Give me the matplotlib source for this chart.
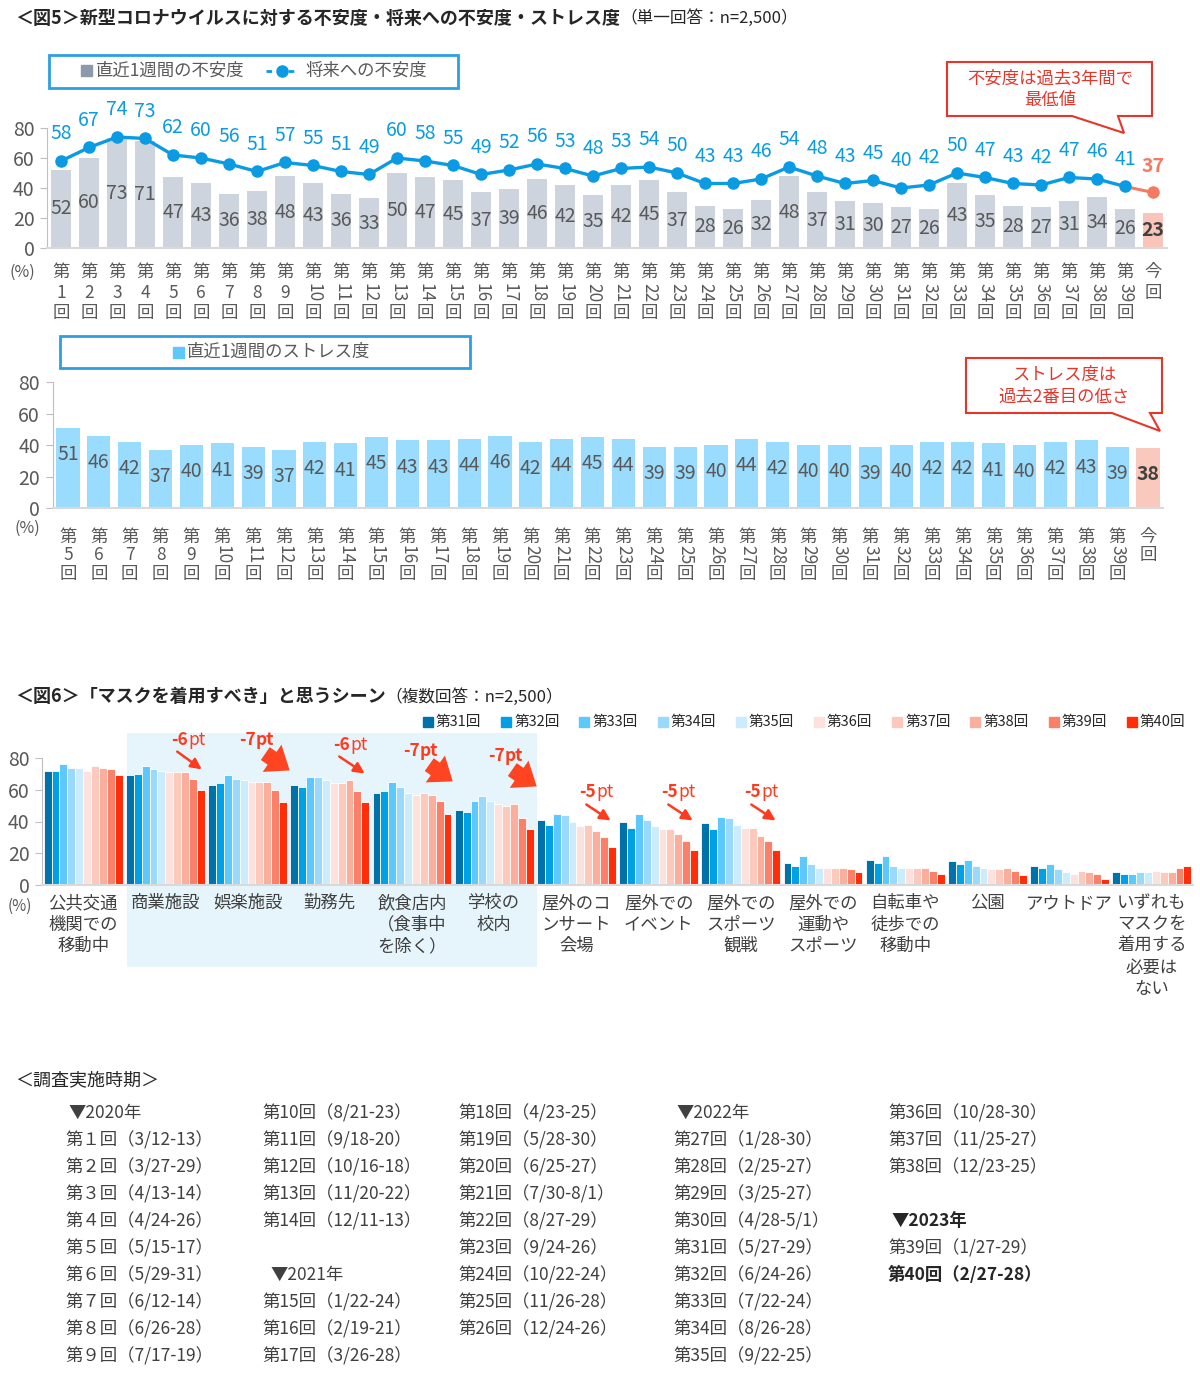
import matplotlib.pyplot as plt
from matplotlib.patches import Rectangle, Polygon, FancyArrowPatch

plt.rcParams['font.family'] = ['Noto Sans CJK JP', 'DejaVu Sans']

# ---------------- data ----------------
top_rounds = [str(i) for i in range(1, 40)] + ['今回']
anxiety_week = [52, 60, 73, 71, 47, 43, 36, 38, 48, 43, 36, 33, 50, 47, 45, 37, 39, 46, 42, 35,
                42, 45, 37, 28, 26, 32, 48, 37, 31, 30, 27, 26, 43, 35, 28, 27, 31, 34, 26, 23]
anxiety_future = [58, 67, 74, 73, 62, 60, 56, 51, 57, 55, 51, 49, 60, 58, 55, 49, 52, 56, 53, 48,
                  53, 54, 50, 43, 43, 46, 54, 48, 43, 45, 40, 42, 50, 47, 43, 42, 47, 46, 41, 37]

stress_rounds = [str(i) for i in range(5, 40)] + ['今回']
stress_week = [51, 46, 42, 37, 40, 41, 39, 37, 42, 41, 45, 43, 43, 44, 46, 42, 44, 45, 44, 39,
               39, 40, 44, 42, 40, 40, 39, 40, 42, 42, 41, 40, 42, 43, 39, 38]

mask_scenes = ['公共交通\n機関での\n移動中', '商業施設', '娯楽施設', '勤務先', '飲食店内\n（食事中\nを除く）',
               '学校の\n校内', '屋外のコ\nンサート\n会場', '屋外での\nイベント', '屋外での\nスポーツ\n観戦',
               '屋外での\n運動や\nスポーツ', '自転車や\n徒歩での\n移動中', '公園', 'アウトドア',
               'いずれも\nマスクを\n着用する\n必要は\nない']
mask_series = ['第31回', '第32回', '第33回', '第34回', '第35回', '第36回', '第37回', '第38回', '第39回', '第40回']
mask_r31 = [72, 69, 63, 63, 58, 47, 41, 40, 39, 14, 16, 15, 12, 8]
mask_r32 = [72, 70, 64, 62, 59, 46, 38, 36, 35, 12, 14, 13, 11, 7]
mask_r33 = [76, 75, 69, 68, 65, 53, 45, 45, 43, 18, 18, 16, 13, 7]
mask_r34 = [74, 73, 67, 68, 62, 56, 44, 41, 42, 13, 12, 12, 10, 8]
mask_r35 = [74, 72, 66, 66, 58, 53, 40, 37, 38, 11, 11, 11, 8, 8]
mask_r36 = [72, 71, 65, 64, 57, 51, 37, 35, 36, 11, 11, 10, 7, 9]
mask_r37 = [75, 71, 65, 64, 58, 50, 38, 35, 36, 11, 11, 10, 9, 8]
mask_r38 = [74, 71, 65, 66, 57, 51, 34, 32, 31, 11, 11, 11, 8, 8]
mask_r39 = [73, 67, 60, 59, 53, 42, 30, 28, 28, 10, 9, 9, 7, 11]
mask_r40 = [69, 60, 52, 52, 45, 35, 24, 22, 22, 8, 7, 6, 4, 12]
mask_by_round = [mask_r31, mask_r32, mask_r33, mask_r34, mask_r35,
                 mask_r36, mask_r37, mask_r38, mask_r39, mask_r40]
mask_colors = ['#0071a9', '#00a0e4', '#5cc8fb', '#98d9fc', '#cbecfd',
               '#fde1dc', '#fdc9bd', '#fcae9c', '#fb806a', '#ff2d0a']

diff_labels = [('-6', 185, 740, 'thin', (175, 750), (204, 771)),
               ('-7', 253, 740, 'fat', (263, 752), (292, 772)),
               ('-6', 347, 745, 'thin', (337, 755), (367, 775)),
               ('-7', 417, 751, 'fat', (427, 763), (455, 783)),
               ('-7', 502, 756, 'fat', (510, 768), (539, 788)),
               ('-5', 593, 792, 'thin', (584, 803), (613, 822)),
               ('-5', 675, 792, 'thin', (666, 803), (695, 822)),
               ('-5', 758, 792, 'thin', (749, 803), (778, 822))]

schedule = [
    ['▼2020年', '第１回（3/12-13）', '第２回（3/27-29）', '第３回（4/13-14）', '第４回（4/24-26）',
     '第５回（5/15-17）', '第６回（5/29-31）', '第７回（6/12-14）', '第８回（6/26-28）', '第９回（7/17-19）'],
    ['第10回（8/21-23）', '第11回（9/18-20）', '第12回（10/16-18）', '第13回（11/20-22）', '第14回（12/11-13）',
     '', '▼2021年', '第15回（1/22-24）', '第16回（2/19-21）', '第17回（3/26-28）'],
    ['第18回（4/23-25）', '第19回（5/28-30）', '第20回（6/25-27）', '第21回（7/30-8/1）', '第22回（8/27-29）',
     '第23回（9/24-26）', '第24回（10/22-24）', '第25回（11/26-28）', '第26回（12/24-26）'],
    ['▼2022年', '第27回（1/28-30）', '第28回（2/25-27）', '第29回（3/25-27）', '第30回（4/28-5/1）',
     '第31回（5/27-29）', '第32回（6/24-26）', '第33回（7/22-24）', '第34回（8/26-28）', '第35回（9/22-25）'],
    ['第36回（10/28-30）', '第37回（11/25-27）', '第38回（12/23-25）', '', '▼2023年',
     '第39回（1/27-29）', '第40回（2/27-28）'],
]
schedule_x = [65, 262, 458, 673, 888]

# ---------------- figure ----------------
W, H = 1200, 1377
fig = plt.figure(figsize=(12, 13.77), dpi=100)
GREY = '#595959'
BLUE = '#0a9be3'
RED = '#e8352a'


def axes_px(left, top, right, bottom, z=1):
    a = fig.add_axes([left / W, 1 - bottom / H, (right - left) / W, (bottom - top) / H], zorder=z)
    a.patch.set_alpha(0)
    return a


def style_axis(a):
    for s in ['top', 'right']:
        a.spines[s].set_visible(False)
    a.spines['left'].set_color('#bfbfbf')
    a.spines['bottom'].set_color('#d9d9d9')
    a.spines['bottom'].set_linewidth(1.5)
    a.set_ylim(0, 80)
    a.set_yticks([0, 20, 40, 60, 80])
    a.tick_params(axis='y', colors='#bfbfbf', length=5, labelcolor=GREY, labelsize=14, pad=4)
    a.set_xticks([])


# background layer (highlight box of fig6)
bg = axes_px(0, 0, W, H, z=0)
bg.set_xlim(0, W)
bg.set_ylim(H, 0)
bg.axis('off')
bg.add_patch(Rectangle((127, 733), 410, 234, color='#e6f5fc', lw=0))

# overlay layer for texts
ov = axes_px(0, 0, W, H, z=5)
ov.set_xlim(0, W)
ov.set_ylim(H, 0)
ov.axis('off')


def vertical_labels(a, labels, offs):
    for i, lab in enumerate(labels):
        if lab == '今回':
            parts = [('今', 0, 0), ('回', 1, 0)]
        else:
            parts = [('第', 0, 0), (lab, 1, 270 if len(lab) > 1 else 0), ('回', 2, 0)]
        for txt, k, rot in parts:
            a.annotate(txt, xy=(i, 0), xycoords=('data', 'axes fraction'),
                       xytext=(0, -offs[k] * 0.72), textcoords='offset points',
                       ha='center', va='center', rotation=rot, fontsize=12.5, color=GREY)


# ---------------- fig5 top ----------------
ax1 = axes_px(47, 128, 1167, 248)
style_axis(ax1)
n1 = len(anxiety_week)
ax1.set_xlim(-0.5, n1 - 0.5)
bar_cols = ['#cdd4de'] * (n1 - 1) + ['#f9c5bb']
ax1.bar(range(n1), anxiety_week, width=0.74, color=bar_cols, zorder=1)
for i, v in enumerate(anxiety_week):
    last = i == n1 - 1
    ax1.text(i, v / 2, str(v), ha='center', va='center', fontsize=14,
             color='#404040' if last else GREY, fontweight='bold' if last else 'normal', zorder=3)
ax1.plot(range(n1 - 1), anxiety_future[:-1], color=BLUE, lw=2.4, marker='o', ms=8, zorder=4)
ax1.plot([n1 - 2, n1 - 1], anxiety_future[-2:], color='#f47b62', lw=2.2, zorder=3)
ax1.plot([n1 - 1], anxiety_future[-1:], 'o', color='#f47b62', ms=8, zorder=4)
for i, v in enumerate(anxiety_future):
    last = i == n1 - 1
    ax1.annotate(str(v), xy=(i, v), xytext=(0, 12), textcoords='offset points', ha='center',
                 va='bottom', fontsize=14, color='#f47b62' if last else BLUE,
                 fontweight='bold' if last else 'normal', annotation_clip=False)
vertical_labels(ax1, top_rounds, [24, 45, 65])
ov.text(22, 272, '(%)', ha='center', va='center', fontsize=11.5, color=GREY)

# legend box 1
ov.add_patch(Rectangle((49, 55), 409, 33, fill=False, ec='#2d9fe2', lw=2))
ov.add_patch(Rectangle((81, 65), 11, 11, color='#8b99ad'))
ov.text(96, 71, '直近1週間の不安度', ha='left', va='center', fontsize=12.5, color=GREY)
ov.plot([266, 298], [71, 71], ls=(0, (2, 2)), color=BLUE, lw=2)
ov.plot([282], [71], 'o', color=BLUE, ms=8)
ov.text(305, 71, '将来への不安度', ha='left', va='center', fontsize=12.5, color=GREY)

# callout 1
ov.add_patch(Polygon([(947, 62), (1152, 62), (1152, 116), (1118, 116), (1124, 133), (1072, 116), (947, 116)],
                     closed=True, fc='white', ec=RED, lw=1.5))
ov.text(1050, 89, '不安度は過去3年間で\n最低値', ha='center', va='center', fontsize=12.5,
        color=RED, linespacing=1.25)

# ---------------- fig5 stress ----------------
ax2 = axes_px(52.6, 382, 1163.4, 508)
style_axis(ax2)
n2 = len(stress_week)
ax2.set_xlim(-0.5, n2 - 0.5)
s_cols = ['#99dcfd'] * (n2 - 1) + ['#f9c9bd']
ax2.bar(range(n2), stress_week, width=0.75, color=s_cols)
for i, v in enumerate(stress_week):
    last = i == n2 - 1
    ax2.text(i, v - 17, str(v), ha='center', va='center', fontsize=14,
             color='#404040' if last else GREY, fontweight='bold' if last else 'normal')
vertical_labels(ax2, stress_rounds, [29, 47, 66])
ov.text(27, 528, '(%)', ha='center', va='center', fontsize=11.5, color=GREY)

ov.add_patch(Rectangle((60, 336), 410, 32, fill=False, ec='#2d9fe2', lw=2))
ov.add_patch(Rectangle((173, 347), 11, 11, color='#5cc8fb'))
ov.text(187, 352, '直近1週間のストレス度', ha='left', va='center', fontsize=12.5, color=GREY)

ov.add_patch(Polygon([(966, 358), (1162, 358), (1162, 413), (1150, 413), (1160, 431), (1112, 413), (966, 413)],
                     closed=True, fc='white', ec=RED, lw=1.5))
ov.text(1064, 386, 'ストレス度は\n過去2番目の低さ', ha='center', va='center', fontsize=12.5,
        color=RED, linespacing=1.25)

# titles
t1 = ov.text(15, 18, '＜図5＞新型コロナウイルスに対する不安度・将来への不安度・ストレス度',
             ha='left', va='center', fontsize=13, fontweight='bold', color='#262626')
ov.annotate('（単一回答：n=2,500）', xy=(1, 0.5), xycoords=t1, ha='left', va='center',
            fontsize=12, color='#262626')

# ---------------- fig6 ----------------
ax3 = axes_px(42, 758, 1193, 885)
style_axis(ax3)
ns = len(mask_scenes)
ax3.set_xlim(-0.5, ns - 0.5)
bw = 0.096
for j, (vals, col) in enumerate(zip(mask_by_round, mask_colors)):
    xs = [i + (j - 4.5) * bw for i in range(ns)]
    ax3.bar(xs, vals, width=bw, color=col, edgecolor='white', linewidth=0.6)
for i, lab in enumerate(mask_scenes):
    ax3.annotate(lab, xy=(i, 0), xycoords=('data', 'axes fraction'), xytext=(0, -9 * 0.72),
                 textcoords='offset points', ha='center', va='top', fontsize=12.5,
                 color='#404040', linespacing=1.25, multialignment='center')
ov.text(20, 906, '(%)', ha='center', va='center', fontsize=11, color=GREY)

t2 = ov.text(15, 697, '＜図6＞「マスクを着用すべき」と思うシーン', ha='left', va='center',
             fontsize=13, fontweight='bold', color='#262626')
ov.annotate('（複数回答：n=2,500）', xy=(1, 0.5), xycoords=t2, ha='left', va='center',
            fontsize=12, color='#262626')

# fig6 legend
for j, (name, col) in enumerate(zip(mask_series, mask_colors)):
    lx = 436 + j * 78.2
    ov.add_patch(Rectangle((lx - 13, 717), 10, 10, color=col))
    ov.text(lx, 722, name, ha='left', va='center', fontsize=10.5, color='#262626')

# difference annotations
ARROW = '#ff3b1f'
for num, tx, ty, kind, p0, p1 in diff_labels:
    ov.text(tx + 3, ty, num, ha='right', va='center', fontsize=12.5, fontweight='bold', color=ARROW)
    ov.text(tx + 3, ty, 'pt', ha='left', va='center', fontsize=12.5,
            fontweight='bold' if kind == 'fat' else 'normal', color=ARROW)
    if kind == 'thin':
        ov.add_patch(FancyArrowPatch(p0, p1, arrowstyle='-|>', mutation_scale=16, color=ARROW, lw=1.8))
    else:
        ov.add_patch(FancyArrowPatch(p0, p1, arrowstyle='simple,head_width=1.7,head_length=1.1,tail_width=0.8',
                                     mutation_scale=14, color='#ff4421', lw=0))

# ---------------- schedule ----------------
ov.text(15, 1080, '＜調査実施時期＞', ha='left', va='center', fontsize=13, color='#262626')
for c, (col_items, cx) in enumerate(zip(schedule, schedule_x)):
    for r, item in enumerate(col_items):
        if not item:
            continue
        bold = item in ('▼2023年', '第40回（2/27-28）')
        x = cx
        if item.startswith('▼'):
            x = cx + (8 if c == 1 else 3)
        ov.text(x, 1113 + 27 * r, item, ha='left', va='center', fontsize=12.5,
                color='#262626' if bold else '#404040', fontweight='bold' if bold else 'normal')

fig.savefig('out.png', dpi=100)
